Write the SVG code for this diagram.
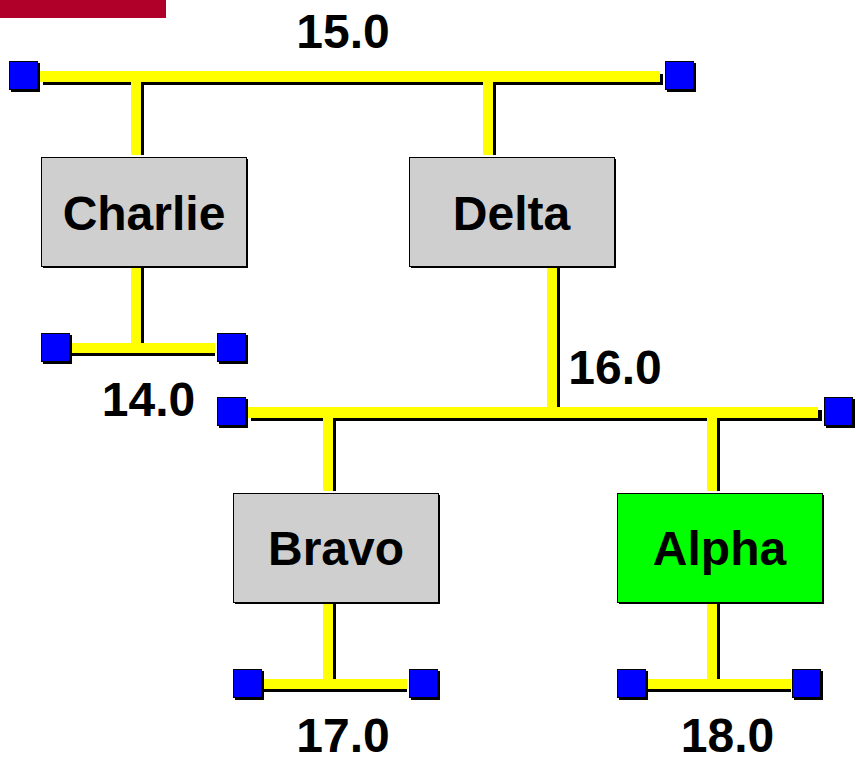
<svg xmlns="http://www.w3.org/2000/svg" width="856" height="761" viewBox="0 0 856 761">
<defs>
<style>
.sh{fill:#000}
.bus{fill:#FFFF00}
.box{fill:#CFCFCF;stroke:#000;stroke-width:1}
.boxg{fill:#00FF00;stroke:#000;stroke-width:1}
.term{fill:#0000FF;stroke:#000;stroke-width:1}
.lbl{font-family:"Liberation Sans",Arial,sans-serif;font-weight:bold;font-size:48px;fill:#000;text-anchor:middle}
</style>
<g id="sq">
<rect class="sh" x="2" y="2" width="29" height="29"/>
<rect class="term" x="0.5" y="0.5" width="28" height="28"/>
</g>
</defs>
<rect x="0" y="0" width="166" height="18" fill="#B0002A"/>
<g id="connectors">
<!-- top bus -->
<rect class="sh" x="43" y="74" width="620" height="11"/>
<rect class="bus" x="40" y="71" width="620" height="11"/>
<rect class="sh" x="134" y="82" width="10" height="73"/>
<rect class="bus" x="131" y="82" width="10" height="73"/>
<rect class="sh" x="486" y="82" width="10" height="73"/>
<rect class="bus" x="483" y="82" width="10" height="73"/>
<!-- charlie bus -->
<rect class="sh" x="134" y="268" width="10" height="75"/>
<rect class="bus" x="131" y="268" width="10" height="75"/>
<rect class="sh" x="72" y="346" width="143" height="10"/>
<rect class="bus" x="72" y="343" width="143" height="10"/>
<!-- delta drop -->
<rect class="sh" x="550" y="268" width="10" height="139"/>
<rect class="bus" x="547" y="268" width="10" height="139"/>
<!-- middle bus -->
<rect class="sh" x="251" y="410" width="571" height="11"/>
<rect class="bus" x="248" y="407" width="570" height="11"/>
<rect class="sh" x="326" y="421" width="10" height="70"/>
<rect class="bus" x="323" y="418" width="10" height="73"/>
<rect class="sh" x="710" y="421" width="10" height="70"/>
<rect class="bus" x="707" y="418" width="10" height="73"/>
<!-- bravo bus -->
<rect class="sh" x="326" y="604" width="10" height="75"/>
<rect class="bus" x="323" y="604" width="10" height="75"/>
<rect class="sh" x="263" y="682" width="144" height="10"/>
<rect class="bus" x="263" y="679" width="144" height="10"/>
<!-- alpha bus -->
<rect class="sh" x="710" y="604" width="10" height="75"/>
<rect class="bus" x="707" y="604" width="10" height="75"/>
<rect class="sh" x="648" y="682" width="143" height="10"/>
<rect class="bus" x="648" y="679" width="143" height="10"/>
</g>
<g id="terminals">
<use href="#sq" x="9" y="61"/>
<use href="#sq" x="665" y="61"/>
<use href="#sq" x="41" y="333"/>
<use href="#sq" x="217" y="333"/>
<use href="#sq" x="217" y="397"/>
<use href="#sq" x="824" y="397"/>
<use href="#sq" x="233" y="669"/>
<use href="#sq" x="409" y="669"/>
<use href="#sq" x="617" y="669"/>
<use href="#sq" x="792" y="669"/>
</g>
<g id="charlie">
<rect class="sh" x="43" y="159" width="205" height="109"/>
<rect class="box" x="41.5" y="157.5" width="205" height="109"/>
<text class="lbl" x="144" y="230">Charlie</text>
</g>
<g id="delta">
<rect class="sh" x="411" y="159" width="205" height="109"/>
<rect class="box" x="409.5" y="157.5" width="205" height="109"/>
<text class="lbl" x="511.5" y="230">Delta</text>
</g>
<g id="bravo">
<rect class="sh" x="235" y="495" width="205" height="109"/>
<rect class="box" x="233.5" y="493.5" width="205" height="109"/>
<text class="lbl" x="336" y="565">Bravo</text>
</g>
<g id="alpha">
<rect class="sh" x="619" y="495" width="205" height="109"/>
<rect class="boxg" x="617.5" y="493.5" width="205" height="109"/>
<text class="lbl" x="719.5" y="565">Alpha</text>
</g>
<g id="labels">
<text class="lbl" x="343" y="48">15.0</text>
<text class="lbl" x="148.5" y="416">14.0</text>
<text class="lbl" x="615" y="384">16.0</text>
<text class="lbl" x="343" y="752">17.0</text>
<text class="lbl" x="727.5" y="752">18.0</text>
</g>
</svg>
